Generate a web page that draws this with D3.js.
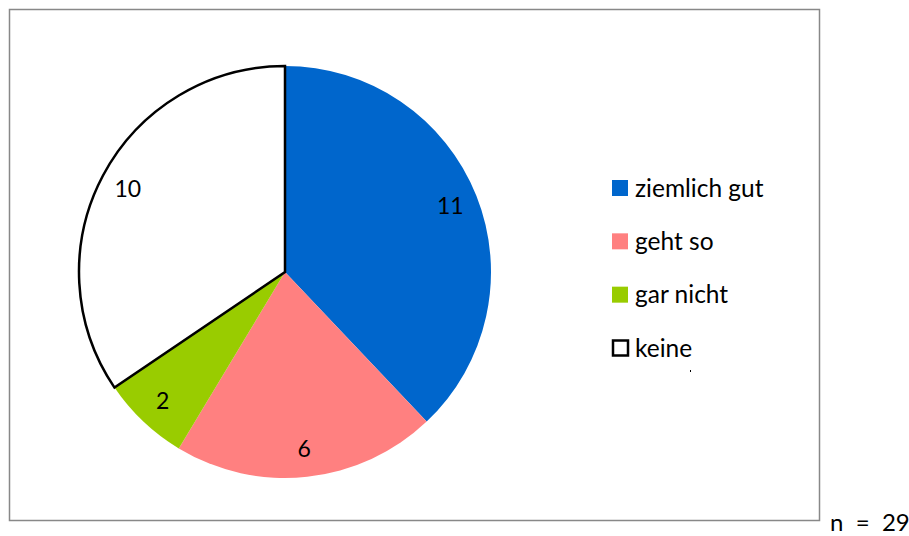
<!DOCTYPE html>
<html><head><meta charset="utf-8">
<script src="https://cdn.jsdelivr.net/npm/d3@7"></script>
<style>body{margin:0;background:#fff}svg{display:block}text{font-family:Lato,"Open Sans",sans-serif}</style>
</head><body><svg id="c" width="909" height="536"></svg>
<script>
const categories = ["ziemlich gut", "geht so", "gar nicht", "keine"];
const values = [11, 6, 2, 10];
const colors = ["#0066CC", "#FF8080", "#99CC00", "#FFFFFF"];
const nLabel = "n = 29";

const svg = d3.select("#c");
svg.append("rect").attr("x",9.5).attr("y",9.5).attr("width",810).attr("height",511)
  .attr("fill","#fff").attr("stroke","#888").attr("stroke-width",1.5);

const cx=285, cy=272, R=206;
const pie = d3.pie().sort(null).value(d=>d)(values);
const arc = d3.arc().innerRadius(0).outerRadius(R);
const g = svg.append("g").attr("transform",`translate(${cx},${cy})`);
g.selectAll("path").data(pie).join("path").attr("d",arc)
  .attr("fill",(d,i)=>colors[i])
  .attr("stroke",(d,i)=>i===3?"#000":"none").attr("stroke-width",2.5)
  .attr("stroke-linejoin","miter");
const lab = d3.arc().innerRadius(178).outerRadius(178);
g.selectAll("text").data(pie).join("text")
  .attr("transform",d=>`translate(${lab.centroid(d)})`)
  .attr("text-anchor","middle").attr("dy","0.35em")
  .attr("font-size",23).attr("fill","#000").text(d=>d.data);

const leg = svg.append("g");
const ly = d3.scalePoint().domain(categories).range([188,348]);
categories.forEach((c,i)=>{
  const y=ly(c);
  const s = i===3?15:16;
  leg.append("rect").attr("x",i===3?613:612).attr("y",y-s/2)
    .attr("width",s).attr("height",s)
    .attr("fill",colors[i]).attr("stroke",i===3?"#000":"none").attr("stroke-width",2.5);
  leg.append("text").attr("x",635).attr("y",y).attr("dy","0.35em")
    .attr("font-size",24.5).attr("fill","#000").text(c);
});
leg.append("rect").attr("x",690).attr("y",370).attr("width",1).attr("height",2).attr("fill","#000");

svg.append("text").attr("x",830).attr("y",531).attr("font-size",24).attr("fill","#000")
  .attr("xml:space","preserve").text(nLabel.replace(/ /g,"  "));
</script></body></html>
